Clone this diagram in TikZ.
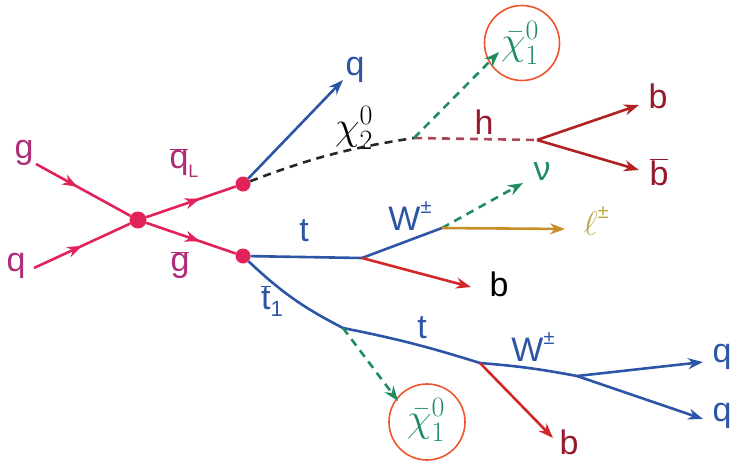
\RequirePackage{fix-cm}
\documentclass[tikz,border=0pt]{standalone}
\usepackage[no-math]{fontspec}
\setmainfont{Liberation Sans}
\usetikzlibrary{arrows.meta,decorations.markings}
\definecolor{pinkl}{RGB}{225,35,90}
\definecolor{pinkt}{RGB}{175,45,120}
\definecolor{bluel}{RGB}{45,85,165}
\definecolor{redl}{RGB}{210,40,40}
\definecolor{redt}{RGB}{150,25,45}
\definecolor{greenl}{RGB}{30,140,95}
\definecolor{goldl}{RGB}{200,140,40}
\definecolor{goldt}{RGB}{185,170,70}
\definecolor{orangec}{RGB}{238,85,45}
\newcommand{\ob}[1]{$\overline{\mbox{#1}}$}
\newcommand{\supr}[1]{\raisebox{0.5em}{\fontsize{20}{20}\selectfont #1}}
\tikzset{
  lw/.style={line width=2.6pt},
  tip/.style={-{Stealth[length=15pt,width=11pt]}},
  midarr/.style={postaction={decorate},decoration={markings,mark=at position #1 with {\arrow{Stealth[length=15pt,width=11pt]}}}},
  dot/.style={circle,fill=pinkl,inner sep=0pt,minimum size=#1},
  lbl/.style={font=\fontsize{34}{36}\selectfont,inner sep=0pt},
  chil/.style={font=\fontsize{40}{42}\selectfont,inner sep=0pt},
  dsh/.style={dash pattern=on 8pt off 6pt},
  ring/.style={draw=orangec,line width=1.6pt}
}
\begin{document}
\begin{tikzpicture}[x=1pt,y=-1pt]
\useasboundingbox (0,0) rectangle (735,461);
% vertices
\node[dot=17pt] (v0) at (138,220) {};
\node[dot=15pt] (v1) at (243,184) {};
\node[dot=15pt] (v2) at (243,256) {};
\coordinate (gs) at (36,164);
\coordinate (qs) at (34,268);
\coordinate (vchi) at (414,138);
\coordinate (vh) at (537,140);
\coordinate (vt) at (362,258);
\coordinate (vw) at (442,228);
\coordinate (vt2) at (343,328);
\coordinate (vt3) at (480,363);
\coordinate (vw2) at (577,376);
% tips
\coordinate (tq) at (343,80);
\coordinate (tchi) at (499,52);
\coordinate (tb1) at (639,105);
\coordinate (tb2) at (639,170);
\coordinate (tnu) at (523,183);
\coordinate (tl) at (565,229);
\coordinate (tb3) at (471,287);
\coordinate (tchi2) at (398,401);
\coordinate (tb4) at (553,438);
\coordinate (tq1) at (703,362);
\coordinate (tq2) at (703,419);
\coordinate (c1) at (522,43);
\coordinate (c2) at (427,422);
% labels
\node[lbl,text=pinkt] (lg) at (24,153) {g};
\node[lbl,text=pinkt] (lq) at (16,266) {q};
\node[lbl,text=pinkt] (lqL) at (184,163) {\ob{q}\raisebox{-0.25em}{\fontsize{18}{18}\selectfont L}};
\node[lbl,text=pinkt] (lgb) at (180,265) {\ob{g}};
\node[lbl,text=bluel] (lqt) at (355,70) {q};
\node[chil,text=black] (lchi2) at (354,128) {$\chi^0_2$};
\node[chil,text=greenl] (lchi1) at (520,43) {$\bar{\chi}^0_1$};
\node[lbl,text=redt] (lh) at (484,122) {h};
\node[lbl,text=redt] (lb1) at (658,96) {b};
\node[lbl,text=redt] (lb2) at (659,172) {\ob{b}};
\node[lbl,text=greenl] (lnu) at (542,172) {ν};
\node[lbl,text=goldt] (ll) at (596,221) {$\ell$\supr{±}};
\node[lbl,text=bluel] (lt1) at (304,231) {t};
\node[lbl,text=bluel] (lw1) at (410,216) {W\supr{±}};
\node[lbl,text=black] (lb3) at (499,284) {b};
\node[lbl,text=bluel] (lt2) at (272,301) {\ob{t}\raisebox{-0.2em}{\fontsize{22}{22}\selectfont 1}};
\node[lbl,text=bluel] (lt3) at (422,328) {t};
\node[lbl,text=bluel] (lw2) at (533,347) {W\supr{±}};
\node[lbl,text=bluel] (lq1) at (722,357) {q};
\node[lbl,text=bluel] (lq2) at (722,416) {q};
\node[chil,text=greenl] (lchi3) at (426,420) {$\bar{\chi}^0_1$};
\node[lbl,text=redt] (lb4) at (569,442) {b};
\draw[ring] (c1) circle[radius=37.5pt];
\draw[ring] (c2) circle[radius=38pt];
% production
\draw[lw,pinkl,midarr=0.44] (gs) -- (v0);
\draw[lw,pinkl,midarr=0.5] (qs) -- (v0);
\draw[lw,pinkl,midarr=0.6] (v0) -- (v1);
\draw[lw,pinkl,midarr=0.6] (v0) -- (v2);
% squark branch
\draw[lw,bluel,tip] (v1) -- (tq);
\draw[lw,black!85,dsh] (v1) to[bend left=6] (vchi);
\draw[lw,redt!80,dsh] (vchi) -- (vh);
\draw[lw,greenl,dsh,tip] (vchi) -- (tchi);
\draw[lw,redl!85!black,tip] (vh) -- (tb1);
\draw[lw,redl!85!black,tip] (vh) -- (tb2);
% gluino branch
\draw[lw,bluel] (v2) -- (vt);
\draw[lw,bluel] (vt) -- (vw);
\draw[lw,redl,tip] (vt) -- (tb3);
\draw[lw,greenl,dsh,tip] (vw) -- (tnu);
\draw[lw,goldl,tip] (vw) -- (tl);
\draw[lw,bluel] (v2) to[bend right=8] (vt2);
\draw[lw,bluel] (vt2) to[bend left=3] (vt3);
\draw[lw,bluel] (vt3) to[bend left=3] (vw2);
\draw[lw,greenl,dsh,tip] (vt2) -- (tchi2);
\draw[lw,redl,tip] (vt3) -- (tb4);
\draw[lw,bluel,tip] (vw2) -- (tq1);
\draw[lw,bluel,tip] (vw2) -- (tq2);
\end{tikzpicture}
\end{document}
